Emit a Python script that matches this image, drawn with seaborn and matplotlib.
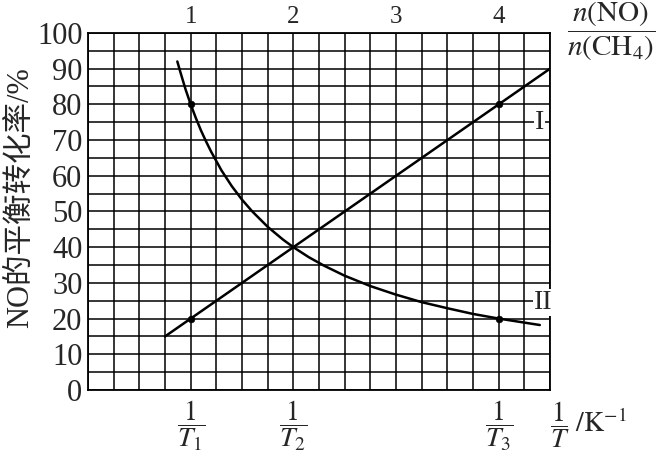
import matplotlib
matplotlib.use("Agg")
import matplotlib.pyplot as plt
import seaborn as sns
import numpy as np
import pandas as pd

# ratio n(NO)/n(CH4) on the top axis, 1/T on the bottom axis
ratio_ticks = [1, 2, 3, 4]
temp_ticks = [1, 2, 4]
temp_labels = [r"$\dfrac{1}{T_{1}}$", r"$\dfrac{1}{T_{2}}$", r"$\dfrac{1}{T_{3}}$"]

# line I (conversion vs ratio)
line_I_x = [0.75, 4.5]
line_I_y = [15, 90]

# curve II (conversion vs 1/T)
curve_II_x = [0.87, 0.9, 0.95, 1.0, 1.05, 1.1, 1.15, 1.2, 1.3, 1.4, 1.5, 1.6, 1.75, 1.9, 2.0,
              2.15, 2.3, 2.5, 2.75, 3.0, 3.25, 3.5, 3.75, 4.0, 4.2, 4.4]
curve_II_y = [92, 89, 84.2, 80, 76.2, 72.7, 69.6, 66.7, 61.5, 57.1, 53.3, 50, 45.7, 42.1, 40,
              37.2, 34.8, 32, 29.1, 26.7, 24.6, 22.9, 21.3, 20, 19.1, 18.2]

# marked points
dots_x = [1, 1, 4, 4]
dots_y = [80, 20, 80, 20]

sns.set_style("white")
plt.rcParams["font.family"] = ["Liberation Serif", "Noto Sans CJK SC"]
plt.rcParams["mathtext.fontset"] = "stix"

fig = plt.figure(figsize=(6.63, 4.59), dpi=100)
ax = fig.add_axes([0.1327, 0.1503, 0.697, 0.778])

df_I = pd.DataFrame({"x": line_I_x, "y": line_I_y})
df_II = pd.DataFrame({"x": curve_II_x, "y": curve_II_y})
df_dots = pd.DataFrame({"x": dots_x, "y": dots_y})

sns.lineplot(data=df_I, x="x", y="y", ax=ax, color="black", lw=1.8, sort=False, estimator=None, zorder=3)
sns.lineplot(data=df_II, x="x", y="y", ax=ax, color="black", lw=1.8, sort=False, estimator=None, zorder=3)
sns.scatterplot(data=df_dots, x="x", y="y", ax=ax, color="black", s=24, zorder=4, edgecolor="black")

ax.set_xlim(0, 4.5)
ax.set_ylim(0, 100)
ax.set_xticks(np.arange(0, 4.51, 0.25))
ax.set_yticks(np.arange(0, 101, 5))
ax.set_xticklabels([])
ax.set_yticklabels([str(v) if v % 10 == 0 else "" for v in range(0, 101, 5)], fontsize=22)
ax.tick_params(axis="both", length=0, pad=4)
ax.grid(True, color="black", lw=1.1)
for s in ax.spines.values():
    s.set_color("black")
    s.set_linewidth(1.3)
ax.set_xlabel("")
ax.set_ylabel("")

# top ratio labels
for r in ratio_ticks:
    ax.text(r, 101.5, str(r), ha="center", va="bottom", fontsize=18)
fig.text(611 / 663, 1 - 31 / 459, r"$\dfrac{n(\mathrm{NO})}{n(\mathrm{CH_4})}$",
         ha="center", va="center", fontsize=21)

# bottom 1/T labels
for t, lab in zip(temp_ticks, temp_labels):
    ax.text(t, -10, lab, ha="center", va="center", fontsize=20)
fig.text(588 / 663, 1 - 425 / 459, r"$\dfrac{1}{T}\ /\mathrm{K}^{-1}$",
         ha="center", va="center", fontsize=20)

# curve labels
ax.text(4.4, 75, "I", ha="center", va="center", fontsize=20,
        bbox=dict(facecolor="white", edgecolor="none", pad=0.5), zorder=5)
ax.text(4.43, 24.5, "II", ha="center", va="center", fontsize=20,
        bbox=dict(facecolor="white", edgecolor="none", pad=0.5), zorder=5)

fig.text(20 / 663, 1 - 198 / 459, "NO的平衡转化率/%", rotation=90,
         ha="center", va="center", fontsize=22)

fig.savefig("out.png", dpi=100, facecolor="white")
